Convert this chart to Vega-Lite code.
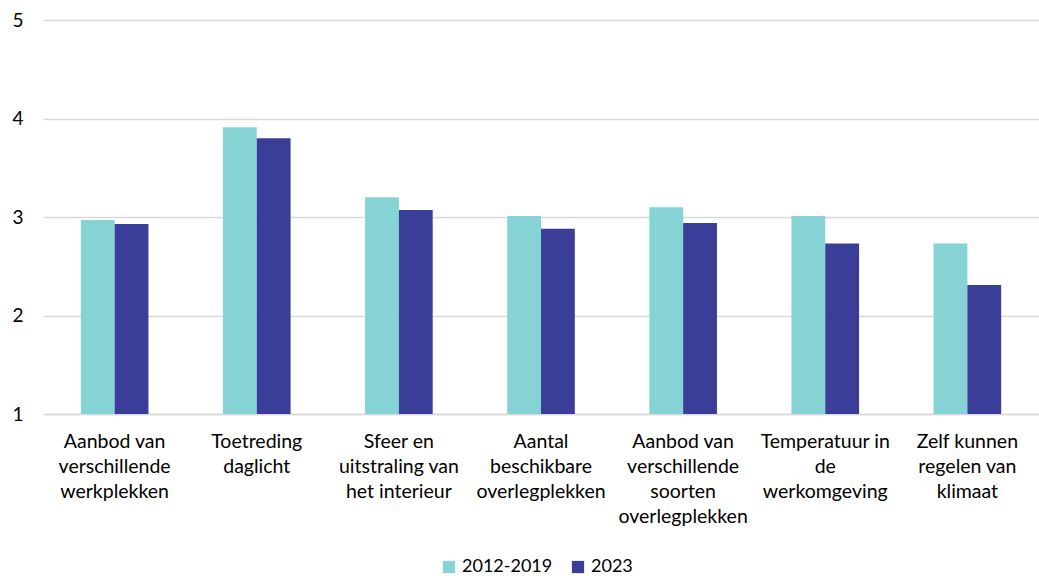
{
  "$schema": "https://vega.github.io/schema/vega-lite/v6.json",
  "width": 996,
  "height": 394,
  "autosize": {"type": "none"},
  "padding": {"left": 43, "top": 20, "right": 0, "bottom": 164},
  "background": "white",
  "config": {
    "view": {"stroke": null},
    "font": "Lato"
  },
  "data": {
    "values": [
      {"categorie": "Aanbod van|verschillende|werkplekken", "periode": "2012-2019", "score": 2.97},
      {"categorie": "Aanbod van|verschillende|werkplekken", "periode": "2023", "score": 2.93},
      {"categorie": "Toetreding|daglicht", "periode": "2012-2019", "score": 3.91},
      {"categorie": "Toetreding|daglicht", "periode": "2023", "score": 3.80},
      {"categorie": "Sfeer en|uitstraling van|het interieur", "periode": "2012-2019", "score": 3.20},
      {"categorie": "Sfeer en|uitstraling van|het interieur", "periode": "2023", "score": 3.07},
      {"categorie": "Aantal|beschikbare|overlegplekken", "periode": "2012-2019", "score": 3.01},
      {"categorie": "Aantal|beschikbare|overlegplekken", "periode": "2023", "score": 2.88},
      {"categorie": "Aanbod van|verschillende|soorten|overlegplekken", "periode": "2012-2019", "score": 3.10},
      {"categorie": "Aanbod van|verschillende|soorten|overlegplekken", "periode": "2023", "score": 2.94},
      {"categorie": "Temperatuur in|de|werkomgeving", "periode": "2012-2019", "score": 3.01},
      {"categorie": "Temperatuur in|de|werkomgeving", "periode": "2023", "score": 2.73},
      {"categorie": "Zelf kunnen|regelen van|klimaat", "periode": "2012-2019", "score": 2.73},
      {"categorie": "Zelf kunnen|regelen van|klimaat", "periode": "2023", "score": 2.31}
    ]
  },
  "mark": {"type": "bar"},
  "encoding": {
    "x": {
      "field": "categorie",
      "type": "nominal",
      "sort": null,
      "title": null,
      "scale": {"paddingInner": 0.524, "paddingOuter": 0.266},
      "axis": {
        "labelExpr": "split(datum.label, '|')",
        "labelAngle": 0,
        "labelFontSize": 19.5,
        "labelColor": "#000000",
        "labelLineHeight": 25,
        "labelPadding": 18,
        "labelBaseline": "top",
        "ticks": false,
        "domain": true,
        "domainColor": "#d9d9d9",
        "domainWidth": 1.5,
        "labelLimit": 200
      }
    },
    "xOffset": {"field": "periode", "type": "nominal", "scale": {"paddingInner": 0}},
    "y": {
      "field": "score",
      "type": "quantitative",
      "title": null,
      "scale": {"domain": [1, 5], "zero": false, "nice": false},
      "axis": {
        "values": [1, 2, 3, 4, 5],
        "domain": false,
        "ticks": false,
        "labelFontSize": 19,
        "labelColor": "#000000",
        "labelPadding": 20,
        "gridColor": "#d9d9d9",
        "gridWidth": 1.5
      }
    },
    "y2": {"datum": 1},
    "color": {
      "field": "periode",
      "type": "nominal",
      "title": null,
      "scale": {"domain": ["2012-2019", "2023"], "range": ["#86D3D6", "#3B3E98"]},
      "legend": {
        "orient": "none",
        "legendX": 397,
        "legendY": 538,
        "direction": "horizontal",
        "symbolType": "square",
        "symbolSize": 150,
        "symbolStrokeWidth": 0,
        "labelFontSize": 18,
        "labelColor": "#000000",
        "columnPadding": 16,
        "labelOffset": 4
      }
    }
  }
}
